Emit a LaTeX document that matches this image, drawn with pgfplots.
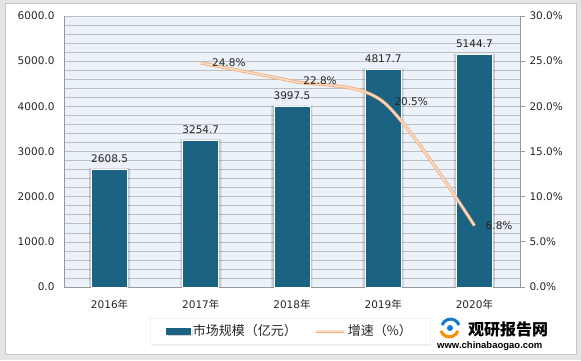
\documentclass[border=0pt]{standalone}
\usepackage{pgfplots}
\pgfplotsset{compat=1.18}
\usepackage{fontspec}
\setmainfont{DejaVu Sans}
\newfontfamily\cjk{Noto Sans CJK SC}
\newfontfamily\lib{Liberation Sans}
\usetikzlibrary{shadows}
\definecolor{barc}{RGB}{27,99,130}
\definecolor{linec}{RGB}{244,177,131}
\definecolor{linecore}{RGB}{252,222,200}
\definecolor{bgc}{RGB}{235,242,249}
\definecolor{gridc}{RGB}{190,190,190}
\definecolor{txt}{RGB}{38,38,38}
\begin{document}
\begin{tikzpicture}[x=1pt,y=1pt]
\fill[gray!20] (0,0) rectangle (581,360);
\fill[white] (5,6) rectangle (576,357);
\draw[gray!45, line width=0.8pt] (5,6) rectangle (576,357);
\begin{axis}[
  at={(64pt,73pt)}, anchor=origin, scale only axis,
  width=456pt, height=271pt,
  xmin=0, xmax=5, ymin=0, ymax=6000,
  axis background/.style={fill=bgc},
  ytick={0,1000,...,6000}, minor ytick={200,400,...,5800},
  ymajorgrids, yminorgrids,
  major grid style={gridc, line width=0.6pt},
  minor grid style={gridc, line width=0.6pt},
  axis x line*=bottom, axis y line*=left,
  axis line style={gray!80, line width=0.8pt},
  xtick={0.5,1.5,2.5,3.5,4.5},
  xticklabels={2016{\cjk 年},2017{\cjk 年},2018{\cjk 年},2019{\cjk 年},2020{\cjk 年}},
  major tick length=0pt, minor tick length=0pt,
  /pgf/number format/assume math mode=true,
  /pgf/number format/fixed, /pgf/number format/fixed zerofill,
  /pgf/number format/precision=1, /pgf/number format/1000 sep={},
  yticklabel style={xshift=-6pt, font=\fontsize{10.5}{12}\selectfont, text=txt},
  xticklabel style={yshift=-9pt, font=\fontsize{10.5}{12}\selectfont, text=txt},
  clip=false,
]
\addplot[ybar, bar width=41pt, fill=black, draw=none, opacity=0.15, forget plot]
  coordinates {(0.5,2625) (1.5,3271) (2.5,4014) (3.5,4834) (4.5,5161)};
\addplot[ybar, bar width=36pt, fill=barc, draw=white, line width=0.8pt,
  nodes near coords,
  every node near coord/.append style={font=\fontsize{10.5}{12}\selectfont, text=txt, yshift=3pt}]
  coordinates {(0.5,2608.5) (1.5,3254.7) (2.5,3997.5) (3.5,4817.7) (4.5,5144.7)};
\end{axis}
\begin{axis}[
  at={(64pt,73pt)}, anchor=origin, scale only axis,
  width=456pt, height=271pt,
  xmin=0, xmax=5, ymin=0, ymax=30,
  axis x line=none, axis y line*=right,
  axis line style={gray!80, line width=0.8pt},
  ytick={0,5,...,30},
  yticklabel={\pgfmathprintnumber[fixed,fixed zerofill,precision=1,assume math mode=true]{\tick}\%},
  yticklabel style={font=\fontsize{10.5}{12}\selectfont, text=txt, xshift=1pt},
  tick align=outside, major tick length=5pt,
  tick style={gray!80, line width=0.8pt},
  clip=false,
  legend columns=2,
  legend style={at={(0.496,-0.163)}, anchor=center, draw=gray!12, fill=white,
    drop shadow={opacity=0.12, shadow xshift=1.5pt, shadow yshift=-1.5pt},
    font=\cjk\fontsize{13}{15}\selectfont, text=txt,
    inner xsep=16pt, inner ysep=5pt,
    /tikz/every even column/.append style={column sep=16pt}},
]
\addlegendimage{legend image code/.code={\fill[barc] (0pt,-3pt) rectangle (24pt,3pt);}}
\addlegendentry{市场规模（亿元）}
\addplot[smooth, draw=linec, line width=0.9pt, double=linecore, double distance=1.4pt,
  legend image code/.code={\draw[linec, line width=0.9pt, double=linecore, double distance=1.4pt] (0pt,0pt) -- (28pt,0pt);},
  nodes near coords,
  point meta=explicit symbolic,
  every node near coord/.append style={anchor=west, font=\fontsize{10.5}{12}\selectfont, text=txt, xshift=8pt, yshift=0pt, double=none, line width=0pt}]
  coordinates {(1.5,24.8) [24.8\%] (2.5,22.8) [22.8\%] (3.5,20.5) [20.5\%] (4.5,6.8) [6.8\%]};
\addlegendentry{增速（\%）}
\end{axis}
% watermark
\begin{scope}[shift={(450,32)}]
\draw[line width=3pt, orange!90!yellow] (-9,-3) arc (200:340:9);
\draw[line width=3pt, cyan!60!blue] (9,3) arc (20:160:9);
\fill[cyan!60!blue] (0,0) circle (3);
\end{scope}
\node[anchor=west, inner sep=0] at (468,31) {\cjk\bfseries\fontsize{16}{18}\selectfont 观研报告网};
\node[anchor=west, inner sep=0] at (437,14) {\lib\bfseries\fontsize{9.5}{11}\selectfont www.chinabaogao.com};
\end{tikzpicture}
\end{document}
